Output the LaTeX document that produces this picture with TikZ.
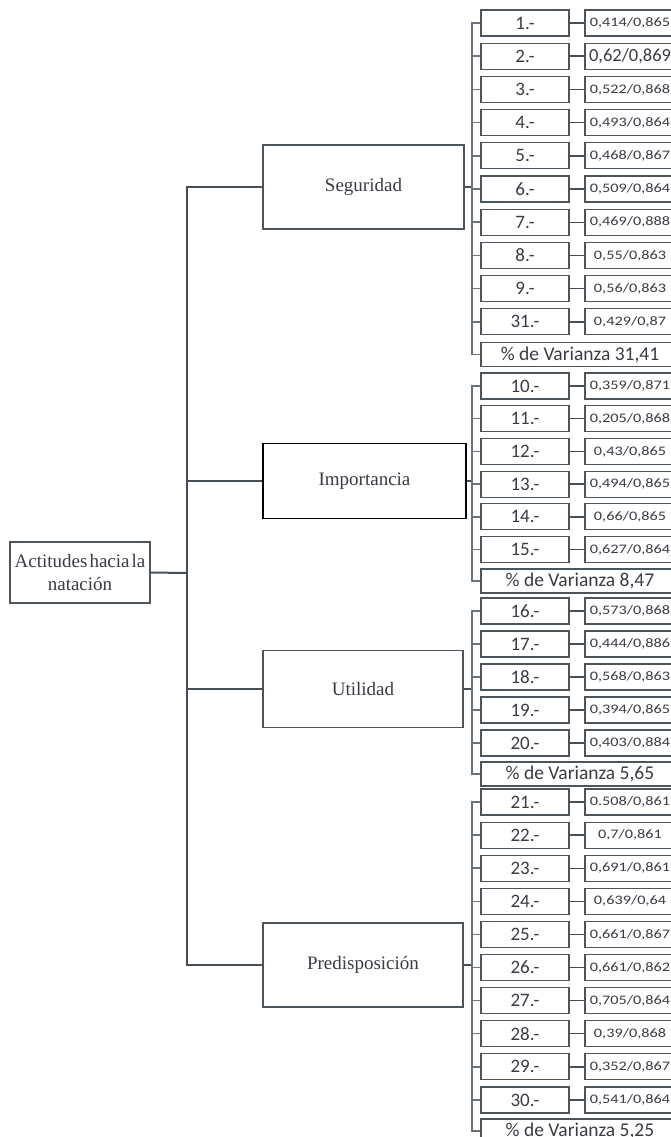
\documentclass[tikz,border=0pt]{standalone}
\usepackage{fontspec}
\setmainfont{Liberation Serif}
\newfontfamily\calfont{Carlito}
\newfontfamily\calwide[FakeStretch=1.25]{Carlito}
\definecolor{ln}{HTML}{454D57}
\definecolor{brk}{HTML}{6A727C}
\definecolor{bx}{HTML}{4E545C}
\definecolor{tx}{HTML}{3A3B45}
\newcommand\tightspaces{\spaceskip=2pt plus 1pt\relax}
\tikzset{
  catbox/.style={draw=bx, line width=1.3pt, fill=white, text=tx, inner sep=2pt,
    font=\fontsize{19}{20}\selectfont},
  rootbox/.style={catbox, align=center, font=\fontsize{19}{23}\selectfont\tightspaces},
  numbox/.style={draw=bx, line width=1.2pt, fill=white, text=tx, minimum width=88pt,
    minimum height=26pt, inner sep=0pt, font=\calfont\fontsize{19}{20}\selectfont},
  valbox/.style={draw=bx, line width=1.2pt, fill=white, text=tx, minimum width=90pt,
    minimum height=26pt, inner sep=0pt, font=\calwide\fontsize{13}{14}\selectfont},
  varbox/.style={draw=bx, line width=1.2pt, fill=white, text=tx, minimum width=198pt,
    minimum height=24pt, inner sep=0pt, font=\calfont\fontsize{19.5}{20}\selectfont},
  link/.style={draw=ln, line width=1.4pt},
  bracket/.style={draw=brk, line width=1.5pt},
}
\newcommand\itemrow[4]{%
  \node[numbox] (n#1) at (525,#2) {#3.-};
  \node[valbox] (v#1) at (630,#2) {#4};
  \draw[link] (n#1.east) -- (v#1.west);
}
\begin{document}
\begin{tikzpicture}[x=1pt,y=-1pt]
\useasboundingbox (0,0) rectangle (670,1137);

% root and categories
\node[rootbox, minimum width=140pt, minimum height=61pt] (root) at (80,572.5) {Actitudes hacia la\\natación};
\node[catbox, minimum width=201pt, minimum height=84pt] (seg) at (363.5,187) {Seguridad};
\node[catbox, minimum width=203pt, minimum height=75pt, draw=black, line width=1.6pt] (imp) at (364.5,481) {Importancia};
\node[catbox, minimum width=200pt, minimum height=77pt] (uti) at (363,689) {Utilidad};
\node[catbox, minimum width=200pt, minimum height=84pt] (pre) at (363,965) {Predisposición};

\coordinate (tj) at (187,573);
\draw[link, line width=2pt] (root.east) -- (tj);
\draw[link] (seg.west) -| (tj) |- (pre.west);
\draw[link] (imp.west) -- (imp.west -| tj);
\draw[link] (uti.west) -- (uti.west -| tj);

% Seguridad items
\itemrow{1}{23}{1}{0,414/0,865}
\node[numbox] (n2) at (525,56.2) {2.-};
\node[valbox, font=\calfont\fontsize{18.5}{20}\selectfont] (v2) at (630,56.2) {0,62/0,869};
\draw[link] (n2.east) -- (v2.west);
\itemrow{3}{89.4}{3}{0,522/0,868}
\itemrow{4}{122.6}{4}{0,493/0,864}
\itemrow{5}{155.8}{5}{0,468/0,867}
\itemrow{6}{189}{6}{0,509/0,864}
\itemrow{7}{222.2}{7}{0,469/0,888}
\itemrow{8}{255.4}{8}{0,55/0,863}
\itemrow{9}{288.6}{9}{0,56/0,863}
\itemrow{31}{321.8}{31}{0,429/0,87}
\node[varbox] (var1) at (580,354.5) {\% de Varianza 31,41};

% Importancia items
\itemrow{10}{386}{10}{0,359/0,871}
\itemrow{11}{418.7}{11}{0,205/0,868}
\itemrow{12}{451.4}{12}{0,43/0,865}
\itemrow{13}{484.1}{13}{0,494/0,865}
\itemrow{14}{516.8}{14}{0,66/0,865}
\itemrow{15}{549.5}{15}{0,627/0,864}
\node[varbox] (var2) at (580,581) {\% de Varianza 8,47};

% Utilidad items
\itemrow{16}{611}{16}{0,573/0,868}
\itemrow{17}{644}{17}{0,444/0,886}
\itemrow{18}{677}{18}{0,568/0,863}
\itemrow{19}{710}{19}{0,394/0,865}
\itemrow{20}{743}{20}{0,403/0,884}
\node[varbox] (var3) at (580,774) {\% de Varianza 5,65};

% Predisposicion items
\itemrow{21}{802}{21}{0.508/0,861}
\itemrow{22}{835.1}{22}{0,7/0,861}
\itemrow{23}{868.2}{23}{0,691/0,861}
\itemrow{24}{901.3}{24}{0,639/0,64}
\itemrow{25}{934.4}{25}{0,661/0,867}
\itemrow{26}{967.5}{26}{0,661/0,862}
\itemrow{27}{1000.6}{27}{0,705/0,864}
\itemrow{28}{1033.7}{28}{0,39/0,868}
\itemrow{29}{1066.8}{29}{0,352/0,867}
\itemrow{30}{1099.9}{30}{0,541/0,864}
\node[varbox] (var4) at (580,1131) {\% de Varianza 5,25};

% brackets
\coordinate (bx) at (472,0);
\draw[link] (seg.east) -- (seg.east -| bx);
\draw[bracket] (n1.west) -| (bx |- var1.west) -- (var1.west);
\foreach \k in {2,3,4,5,6,7,8,9,31} \draw[bracket] (n\k.west) -- (n\k.west -| bx);

\draw[link] (imp.east) -- (imp.east -| bx);
\draw[bracket] (n10.west) -| (bx |- var2.west) -- (var2.west);
\foreach \k in {11,12,13,14,15} \draw[bracket] (n\k.west) -- (n\k.west -| bx);

\draw[link] (uti.east) -- (uti.east -| bx);
\draw[bracket] (n16.west) -| (bx |- var3.west) -- (var3.west);
\foreach \k in {17,18,19,20} \draw[bracket] (n\k.west) -- (n\k.west -| bx);

\draw[link] (pre.east) -- (pre.east -| bx);
\draw[bracket] (n21.west) -| (bx |- var4.west) -- (var4.west);
\foreach \k in {22,23,24,25,26,27,28,29,30} \draw[bracket] (n\k.west) -- (n\k.west -| bx);
\end{tikzpicture}
\end{document}
